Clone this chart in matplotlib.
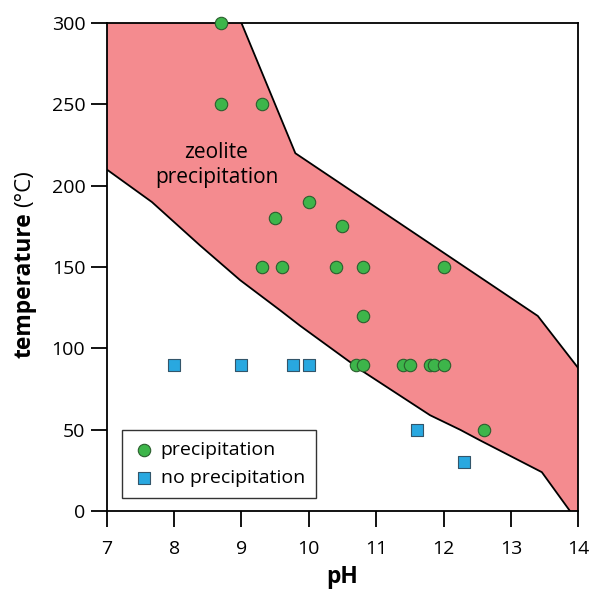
import matplotlib
matplotlib.use("Agg")
from matplotlib import pyplot as plt
from matplotlib.patches import Polygon

plt.rcParams["font.family"] = ["Open Sans", "DejaVu Sans"]

# zeolite precipitation field boundaries (pH, temperature)
upper_ph = [7.0, 9.0, 9.8, 13.4, 14.0]
upper_t = [300, 300, 220, 120, 88]
lower_ph = [7.0, 7.67, 8.38, 8.98, 9.57, 9.87, 10.8, 11.8, 12.25, 12.54, 13.46, 13.88]
lower_t = [210, 190, 163.5, 142, 123.6, 114, 86, 59, 50, 43.6, 24, 0]

# experiments with precipitation
prec_ph = [8.7, 8.7, 9.3, 10.0, 9.5, 10.5, 9.3, 9.6, 10.4, 10.8, 12.0, 10.8,
           10.7, 10.8, 11.4, 11.5, 11.8, 11.86, 12.0, 12.6]
prec_t = [300, 250, 250, 190, 180, 175, 150, 150, 150, 150, 150, 120,
          90, 90, 90, 90, 90, 90, 90, 50]

# experiments without precipitation
noprec_ph = [8.0, 9.0, 9.77, 10.0, 11.6, 12.3]
noprec_t = [90, 90, 90, 90, 50, 30]

x_ticks = [7, 8, 9, 10, 11, 12, 13, 14]
y_ticks = [0, 50, 100, 150, 200, 250, 300]

fig = plt.figure(figsize=(5.9, 5.91), dpi=100)
ax = fig.add_axes([0.181, 0.135, 0.799, 0.826])

# filled field
poly = list(zip(upper_ph, upper_t)) + [(14.0, 0)] + list(zip(lower_ph[::-1], lower_t[::-1]))
ax.add_patch(Polygon(poly, closed=True, facecolor="#f48b8f", edgecolor="none", zorder=1))
ax.plot(upper_ph[1:], upper_t[1:], color="black", linewidth=1.3, zorder=2)
ax.plot(lower_ph, lower_t, color="black", linewidth=1.3, zorder=2)

ax.scatter(prec_ph, prec_t, s=80, marker="o", color="#3db54a", edgecolor="#2b5e2e",
           linewidth=0.8, zorder=4, clip_on=False, label="precipitation")
ax.scatter(noprec_ph, noprec_t, s=80, marker="s", color="#29a8e0", edgecolor="#33556a",
           linewidth=0.8, zorder=4, clip_on=False, label="no precipitation")

ax.text(8.63, 213, "zeolite\nprecipitation", ha="center", va="center",
        fontsize=15, linespacing=1.25, zorder=3)

ax.set_xlim(7, 14)
ax.set_ylim(0, 300)
ax.set_xticks(x_ticks)
ax.set_yticks(y_ticks)
ax.tick_params(direction="out", length=11.5, width=1.3, labelsize=14)
ax.tick_params(axis="x", pad=9)
ax.tick_params(axis="y", pad=4)
for sp in ax.spines.values():
    sp.set_linewidth(1.3)

ax.set_xlabel("pH", fontsize=16.5, fontweight="bold", labelpad=5)

# y label: bold word, regular unit
fig.text(0.041, 0.518, "temperature", rotation=90, ha="center", va="center",
         fontsize=16.5, fontweight="bold")
fig.text(0.041, 0.680, "(°C)", rotation=90, ha="center", va="center",
         fontsize=16)

leg = ax.legend(loc="lower left", bbox_to_anchor=(0.032, 0.027), fontsize=14,
                frameon=True, fancybox=False, edgecolor="black", handletextpad=0.25,
                borderpad=0.55, labelspacing=0.55, handlelength=1.2, borderaxespad=0)
leg.get_frame().set_linewidth(1.0)

plt.savefig("out.png", dpi=100)
